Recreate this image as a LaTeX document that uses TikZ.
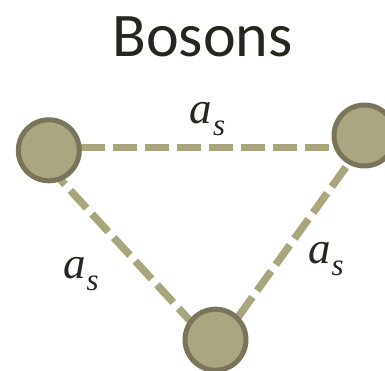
\documentclass[tikz,border=0pt]{standalone}
\usepackage{fontspec}
\setmainfont{Carlito}
\newfontfamily\labelfont{Liberation Serif}
\usetikzlibrary{backgrounds, calc}
\definecolor{bosonfill}{HTML}{AAA682}
\definecolor{bosonedge}{HTML}{78755A}
\definecolor{linkolive}{HTML}{A9A57D}
\definecolor{titlegray}{HTML}{28251E}
\tikzstyle{boson} = [circle, minimum size=61pt, inner sep=0pt, draw=bosonedge, fill=bosonfill, line width=5pt]
\tikzstyle{link} = [draw=linkolive, line width=7.5pt, dash pattern=on 24pt off 8pt]
\tikzstyle{coupling} = [anchor=base west, inner sep=0pt, font=\labelfont\itshape\fontsize{45}{45}\selectfont, text=titlegray]
\newcommand{\scatlen}{a\kern1pt\raisebox{-12pt}{\fontsize{31}{31}\selectfont s}}

\begin{document}
\begin{tikzpicture}[x=1pt, y=-1pt]
  \useasboundingbox (0,0) rectangle (385,371);

  % Title
  \node (title) [anchor=base, inner sep=0pt, font=\fontsize{62}{62}\selectfont, text=titlegray] at (202.5,56.5) {Bosons};

  % Particles
  \node (left) [boson] at (48.8,150.3) {};
  \node (right) [boson] at (364.5,135.5) {};
  \node (bottom) [boson] at (215.5,339.7) {};

  % Links
  \begin{pgfonlayer}{background}
    \coordinate (ltop) at ([yshift=3pt]left.center);
    \coordinate (bmeet) at ([yshift=-8.8pt]bottom.center);
    \draw[link] (ltop) -- (ltop -| right);
    \draw[link] ([yshift=-16.6pt]left.center) -- (bmeet);
    \draw[link] ([yshift=-5.7pt]right.center) -- (bmeet);
  \end{pgfonlayer}

  % Labels
  \node (ltopa) [coupling] at (189.5,123.3) {\scatlen};
  \node (lleft) [coupling] at (63,278.3) {\scatlen};
  \node (lright) [coupling] at (308,263.3) {\scatlen};
\end{tikzpicture}
\end{document}
